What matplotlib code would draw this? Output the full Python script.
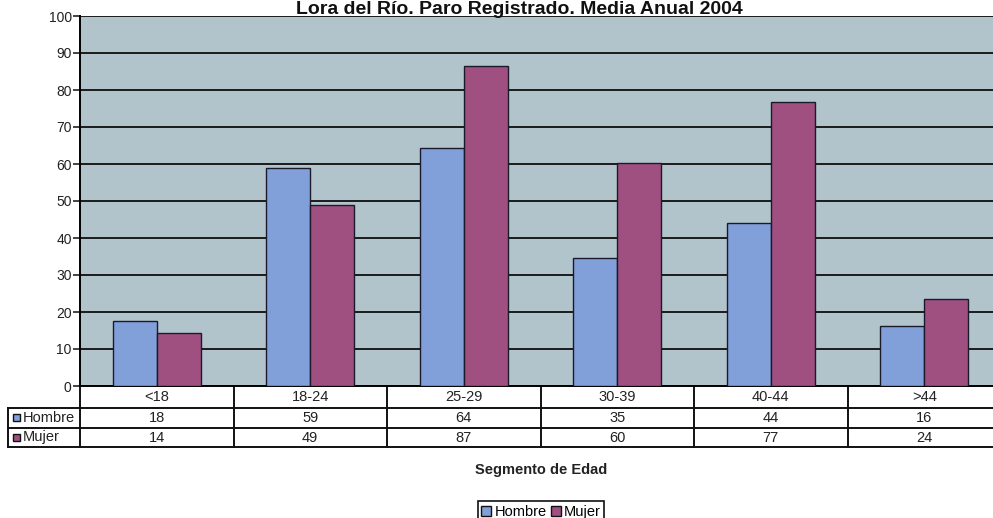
import matplotlib
matplotlib.use("Agg")
from matplotlib import pyplot as plt
from matplotlib.patches import Patch, Rectangle
import numpy as np

plt.rcParams['font.family'] = ['Liberation Sans', 'DejaVu Sans']

segmentos = ['<18', '18-24', '25-29', '30-39', '40-44', '>44']
hombre = [17.6, 58.9, 64.2, 34.7, 44.1, 16.2]
mujer = [14.3, 48.8, 86.6, 60.4, 76.7, 23.6]
series = ['Hombre', 'Mujer']

c_hombre = '#819fd9'
c_mujer = '#9f5080'
fondo = '#b1c4cb'

W, H = 993, 518
fig = plt.figure(figsize=(W / 100, H / 100), dpi=100)
# el area de trazado se sale un poco por la derecha
ax = fig.add_axes([80 / W, 1 - 386 / H, (1001 - 80) / W, (386 - 16) / H])
ax.set_facecolor(fondo)

x = np.arange(len(segmentos))
bw = 0.287
ax.bar(x - bw / 2, hombre, bw, color=c_hombre, edgecolor='#1a1a2a', linewidth=1, zorder=3)
ax.bar(x + bw / 2, mujer, bw, color=c_mujer, edgecolor='#1a1a2a', linewidth=1, zorder=3)

ax.set_xlim(-0.5, len(segmentos) - 0.5)
ax.set_ylim(0, 100)
ax.set_yticks(range(0, 101, 10))
ax.yaxis.grid(True, color='#1b1b1b', linewidth=1.4, zorder=1)
ax.set_axisbelow(True)
ax.set_xticks([])
for s in ['top', 'right']:
    ax.spines[s].set_visible(False)
ax.spines['left'].set_linewidth(1.4)
ax.spines['bottom'].set_linewidth(1.4)
ax.tick_params(axis='y', length=5, width=1.2, labelsize=10, pad=1, colors='#222222')

# tabla de datos bajo el grafico
tr = ax.get_xaxis_transform()
ph = 386 - 16
y_rows = [0, -(408 - 386) / ph, -(428 - 386) / ph, -(447 - 386) / ph]
x_lab = -0.5 - (80 - 8) / 153.5
lk = dict(color='#111111', linewidth=1.4, clip_on=False, transform=tr)
for yy in y_rows[1:]:
    ax.plot([x_lab, len(segmentos) - 0.5], [yy, yy], **lk)
for i in range(len(segmentos) + 1):
    ax.plot([i - 0.5, i - 0.5], [y_rows[0], y_rows[3]], **lk)
ax.plot([x_lab, x_lab], [y_rows[1], y_rows[3]], **lk)

for i, seg in enumerate(segmentos):
    ax.text(i, (y_rows[0] + y_rows[1]) / 2, seg, ha='center', va='center',
            fontsize=10.5, color='#222222', transform=tr)
    ax.text(i, (y_rows[1] + y_rows[2]) / 2, f'{hombre[i]:.0f}', ha='center',
            va='center', fontsize=10.5, color='#222222', transform=tr)
    ax.text(i, (y_rows[2] + y_rows[3]) / 2, f'{mujer[i]:.0f}', ha='center',
            va='center', fontsize=10.5, color='#222222', transform=tr)

for k, (nombre, col) in enumerate(zip(series, [c_hombre, c_mujer])):
    yc = (1 - 386 / H) + (y_rows[k + 1] + y_rows[k + 2]) / 2 * ph / H
    fig.patches.append(Rectangle((13 / W, yc - 3.5 / H), 7 / W, 7 / H, facecolor=col,
                                 edgecolor='#111111', linewidth=1,
                                 transform=fig.transFigure))
    fig.text(23 / W, yc, nombre, ha='left', va='center',
             fontsize=10.5, color='#222222')

fig.text(519 / W, 1 - 14 / H, 'Lora del Río. Paro Registrado. Media Anual 2004',
         ha='center', va='baseline', fontsize=14, fontweight='bold', color='#111111')
fig.text(541 / W, 1 - 470 / H, 'Segmento de Edad', ha='center', va='center',
         fontsize=10.5, fontweight='bold', color='#222222')

handles = [Patch(facecolor=c_hombre, edgecolor='#111111'),
           Patch(facecolor=c_mujer, edgecolor='#111111')]
leg = fig.legend(handles, series, loc='center', bbox_to_anchor=(541 / W, 1 - 512 / H),
                 ncol=2, fontsize=10.5, handlelength=0.7, handleheight=0.7,
                 handletextpad=0.2, columnspacing=0.3, borderpad=0.25,
                 fancybox=False, edgecolor='#111111', framealpha=1)
leg.get_frame().set_linewidth(1.2)

fig.savefig('out.png', dpi=100)
